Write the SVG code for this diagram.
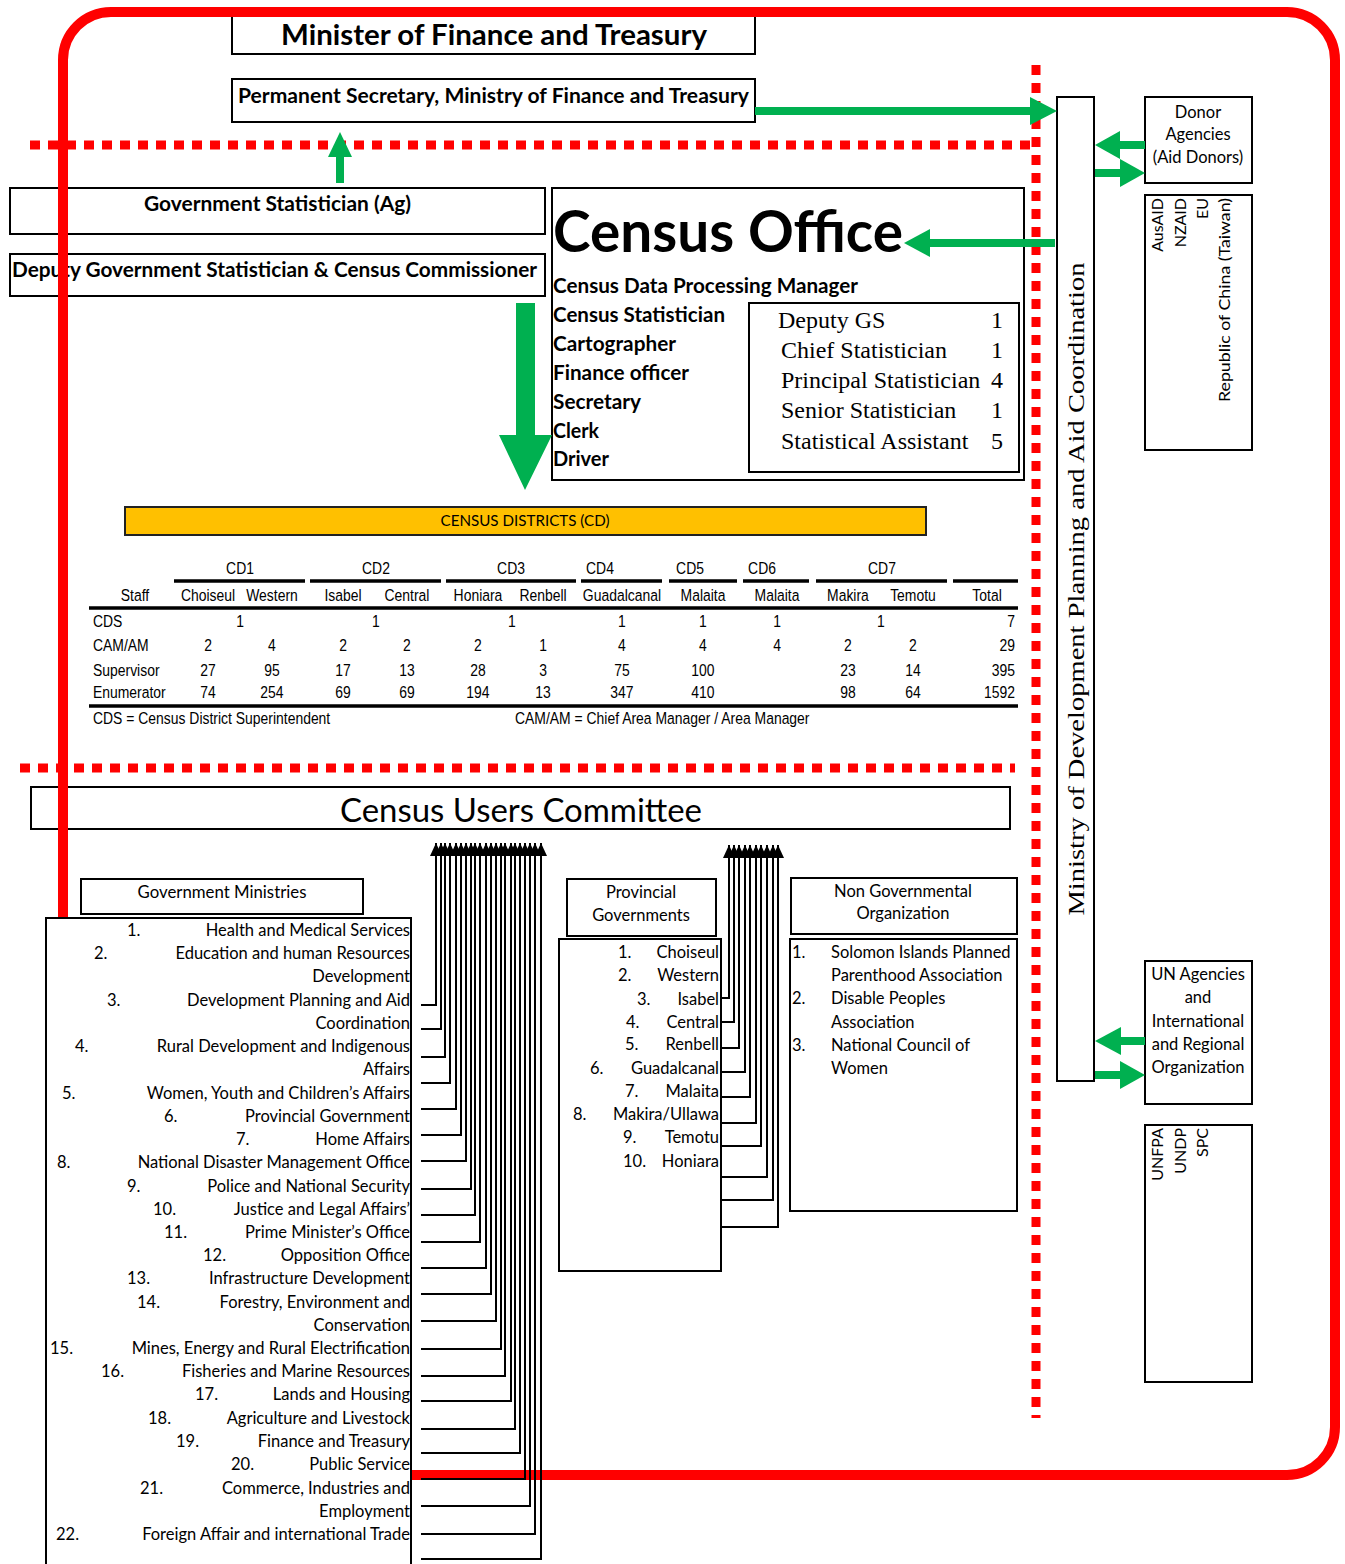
<svg xmlns="http://www.w3.org/2000/svg" width="1345" height="1564" viewBox="0 0 1345 1564">
<style>
.box{fill:none;stroke:#000;stroke-width:2}
.wbox{fill:#fff;stroke:#000;stroke-width:2}
.dot{fill:none;stroke:#FF0000;stroke-width:9;stroke-dasharray:10 8}
.g{fill:#00B050}
.cal{font-family:Lato,"Liberation Sans",sans-serif;fill:#000}
.calb{font-family:Lato,"Liberation Sans",sans-serif;font-weight:bold;fill:#000}
.tm{font-family:"Liberation Serif",serif;font-size:24px;fill:#000}
.nar{font-family:"Liberation Sans",Arial,sans-serif;font-size:17px;fill:#000}
.conn{fill:none;stroke:#000;stroke-width:2}
.thick{stroke:#000;stroke-width:3.5}
.li{font-size:16.5px}
</style>
<defs>
<marker id="ah" markerUnits="userSpaceOnUse" markerWidth="13" markerHeight="12" viewBox="0 0 13 12" refX="13" refY="6" orient="auto"><path d="M0,0 L13,6 L0,12 z" fill="#000"/></marker>
</defs>

<g id="separators">
<line class="dot" x1="30" y1="145" x2="1036" y2="145"/>
<line class="dot" x1="1036" y1="65" x2="1036" y2="1418"/>
<line class="dot" x1="20" y1="768" x2="1015" y2="768"/>
</g>

<g id="minister">
<rect class="box" x="232" y="15" width="523" height="39"/>
<text class="calb" x="494" y="45" font-size="28" text-anchor="middle" textLength="426" lengthAdjust="spacingAndGlyphs">Minister of Finance and Treasury</text>
</g>
<g id="permsec">
<rect class="box" x="232" y="79" width="523" height="43"/>
<text class="calb" x="238" y="103" font-size="20" textLength="511" lengthAdjust="spacingAndGlyphs">Permanent Secretary, Ministry of Finance and Treasury</text>
</g>
<g id="govstat">
<rect class="box" x="10" y="188" width="535" height="46"/>
<text class="calb" x="144" y="211" font-size="20" textLength="267" lengthAdjust="spacingAndGlyphs">Government Statistician (Ag)</text>
</g>
<g id="deputy">
<rect class="box" x="10" y="254" width="535" height="42"/>
<text class="calb" x="12" y="277" font-size="20" textLength="525" lengthAdjust="spacingAndGlyphs">Deputy Government Statistician &amp; Census Commissioner</text>
</g>

<g id="census-office">
<rect class="box" x="552" y="188" width="472" height="292"/>
<text class="calb" x="553" y="252" font-size="58" textLength="350" lengthAdjust="spacingAndGlyphs">Census Office</text>
<text class="calb" x="553" y="293" font-size="20" textLength="305" lengthAdjust="spacingAndGlyphs">Census Data Processing Manager</text>
<text class="calb" x="553" y="322" font-size="20" textLength="172" lengthAdjust="spacingAndGlyphs">Census Statistician</text>
<text class="calb" x="553" y="351" font-size="20" textLength="123" lengthAdjust="spacingAndGlyphs">Cartographer</text>
<text class="calb" x="553" y="380" font-size="20" textLength="136" lengthAdjust="spacingAndGlyphs">Finance officer</text>
<text class="calb" x="553" y="409" font-size="20" textLength="88" lengthAdjust="spacingAndGlyphs">Secretary</text>
<text class="calb" x="553" y="438" font-size="20" textLength="46" lengthAdjust="spacingAndGlyphs">Clerk</text>
<text class="calb" x="553" y="466" font-size="20" textLength="56" lengthAdjust="spacingAndGlyphs">Driver</text>
</g>
<g id="staff-box">
<rect class="box" x="749" y="303" width="270" height="169"/>
<text class="tm" x="778" y="328">Deputy GS</text><text class="tm" x="997" y="328" text-anchor="middle">1</text>
<text class="tm" x="781" y="358">Chief Statistician</text><text class="tm" x="997" y="358" text-anchor="middle">1</text>
<text class="tm" x="781" y="388">Principal Statistician</text><text class="tm" x="997" y="388" text-anchor="middle">4</text>
<text class="tm" x="781" y="418">Senior Statistician</text><text class="tm" x="997" y="418" text-anchor="middle">1</text>
<text class="tm" x="781" y="449">Statistical Assistant</text><text class="tm" x="997" y="449" text-anchor="middle">5</text>
</g>

<g id="ministry-dev">
<rect class="box" x="1057" y="97" width="37" height="984"/>
<text class="tm" font-size="28" transform="translate(1084,589) rotate(-90)" text-anchor="middle" textLength="653" lengthAdjust="spacingAndGlyphs">Ministry of Development Planning and Aid Coordination</text>
</g>

<g id="donor">
<rect class="box" x="1145" y="97" width="107" height="86"/>
<text class="cal" font-size="16.5" x="1198" y="118" text-anchor="middle">Donor</text>
<text class="cal" font-size="16.5" x="1198" y="140" text-anchor="middle">Agencies</text>
<text class="cal" font-size="16.5" x="1198" y="163" text-anchor="middle">(Aid Donors)</text>
</g>
<g id="donor-list">
<rect class="box" x="1145" y="195" width="107" height="255"/>
<text class="cal" font-size="16" transform="translate(1163,198) rotate(-90)" text-anchor="end">AusAID</text>
<text class="cal" font-size="16" transform="translate(1186,198) rotate(-90)" text-anchor="end">NZAID</text>
<text class="cal" font-size="16" transform="translate(1208,198) rotate(-90)" text-anchor="end">EU</text>
<text class="cal" font-size="16" transform="translate(1230,198) rotate(-90)" text-anchor="end" textLength="204" lengthAdjust="spacingAndGlyphs">Republic of China (Taiwan)</text>
</g>
<g id="un">
<rect class="box" x="1145" y="961" width="107" height="143"/>
<text class="cal" font-size="16.5" x="1198" y="980" text-anchor="middle">UN Agencies</text>
<text class="cal" font-size="16.5" x="1198" y="1003" text-anchor="middle">and</text>
<text class="cal" font-size="16.5" x="1198" y="1027" text-anchor="middle">International</text>
<text class="cal" font-size="16.5" x="1198" y="1050" text-anchor="middle">and Regional</text>
<text class="cal" font-size="16.5" x="1198" y="1073" text-anchor="middle">Organization</text>
</g>
<g id="un-list">
<rect class="box" x="1145" y="1125" width="107" height="257"/>
<text class="cal" font-size="16" transform="translate(1163,1128) rotate(-90)" text-anchor="end">UNFPA</text>
<text class="cal" font-size="16" transform="translate(1186,1128) rotate(-90)" text-anchor="end">UNDP</text>
<text class="cal" font-size="16" transform="translate(1208,1128) rotate(-90)" text-anchor="end">SPC</text>
</g>

<g id="census-districts">
<rect x="125" y="507" width="801" height="28" fill="#FFC000" stroke="#222" stroke-width="2"/>
<text class="cal" font-size="15" x="525" y="526" text-anchor="middle" textLength="169" lengthAdjust="spacingAndGlyphs">CENSUS DISTRICTS (CD)</text>
</g>

<g id="cd-table">
<g class="thick">
<line x1="174" y1="581" x2="305" y2="581"/>
<line x1="310" y1="581" x2="441" y2="581"/>
<line x1="446" y1="581" x2="576" y2="581"/>
<line x1="581" y1="581" x2="662" y2="581"/>
<line x1="669" y1="581" x2="737" y2="581"/>
<line x1="743" y1="581" x2="809" y2="581"/>
<line x1="816" y1="581" x2="947" y2="581"/>
<line x1="953" y1="581" x2="1018" y2="581"/>
<line x1="89" y1="608" x2="1018" y2="608"/>
<line x1="89" y1="706" x2="1018" y2="706"/>
</g>
<g transform="scale(0.82,1)">
<g class="nar" text-anchor="middle">
<text x="292.7" y="574">CD1</text><text x="458.5" y="574">CD2</text><text x="623.2" y="574">CD3</text><text x="731.7" y="574">CD4</text><text x="841.5" y="574">CD5</text><text x="929.3" y="574">CD6</text><text x="1075.6" y="574">CD7</text>
<text x="164.6" y="601">Staff</text><text x="253.7" y="601">Choiseul</text><text x="331.7" y="601">Western</text><text x="418.3" y="601">Isabel</text><text x="496.3" y="601">Central</text><text x="582.9" y="601">Honiara</text><text x="662.2" y="601">Renbell</text><text x="758.5" y="601">Guadalcanal</text><text x="857.3" y="601">Malaita</text><text x="947.6" y="601">Malaita</text><text x="1034.1" y="601">Makira</text><text x="1113.4" y="601">Temotu</text><text x="1203.7" y="601">Total</text>
<text x="292.7" y="627">1</text><text x="458.5" y="627">1</text><text x="624.4" y="627">1</text><text x="758.5" y="627">1</text><text x="857.3" y="627">1</text><text x="947.6" y="627">1</text><text x="1074.4" y="627">1</text>
<text x="253.7" y="651">2</text><text x="331.7" y="651">4</text><text x="418.3" y="651">2</text><text x="496.3" y="651">2</text><text x="582.9" y="651">2</text><text x="662.2" y="651">1</text><text x="758.5" y="651">4</text><text x="857.3" y="651">4</text><text x="947.6" y="651">4</text><text x="1034.1" y="651">2</text><text x="1113.4" y="651">2</text>
<text x="253.7" y="676">27</text><text x="331.7" y="676">95</text><text x="418.3" y="676">17</text><text x="496.3" y="676">13</text><text x="582.9" y="676">28</text><text x="662.2" y="676">3</text><text x="758.5" y="676">75</text><text x="857.3" y="676">100</text><text x="1034.1" y="676">23</text><text x="1113.4" y="676">14</text>
<text x="253.7" y="698">74</text><text x="331.7" y="698">254</text><text x="418.3" y="698">69</text><text x="496.3" y="698">69</text><text x="582.9" y="698">194</text><text x="662.2" y="698">13</text><text x="758.5" y="698">347</text><text x="857.3" y="698">410</text><text x="1034.1" y="698">98</text><text x="1113.4" y="698">64</text>
</g>
<g class="nar" text-anchor="end">
<text x="1237.8" y="627">7</text><text x="1237.8" y="651">29</text><text x="1237.8" y="676">395</text><text x="1237.8" y="698">1592</text>
</g>
<g class="nar">
<text x="113.4" y="627">CDS</text><text x="113.4" y="651">CAM/AM</text><text x="113.4" y="676">Supervisor</text><text x="113.4" y="698">Enumerator</text>
<text x="113.4" y="724">CDS = Census District Superintendent</text>
<text x="628" y="724">CAM/AM = Chief Area Manager / Area Manager</text>
</g>
</g>
</g>

<g id="users-committee">
<rect class="box" x="31" y="787" width="979" height="42"/>
<text class="cal" font-size="32" x="521" y="822" text-anchor="middle" textLength="362" lengthAdjust="spacingAndGlyphs">Census Users Committee</text>
</g>

<g id="gov-ministries-header">
<rect class="box" x="81" y="879" width="282" height="35"/>
<text class="cal" font-size="16.8" x="222" y="898" text-anchor="middle">Government Ministries</text>
</g>

<rect id="frame" x="63" y="12" width="1272" height="1463" rx="48" fill="none" stroke="#FF0000" stroke-width="10"/>

<g id="gov-ministries">
<rect class="wbox" x="46" y="918" width="365" height="700"/>
<g class="cal li">
<text x="127" y="936">1.</text><text x="94" y="959">2.</text><text x="107" y="1006">3.</text><text x="75" y="1052">4.</text><text x="62" y="1099">5.</text><text x="164" y="1122">6.</text><text x="236" y="1145">7.</text><text x="57" y="1168">8.</text><text x="127" y="1192">9.</text><text x="153" y="1215">10.</text><text x="164" y="1238">11.</text><text x="203" y="1261">12.</text><text x="127" y="1284">13.</text><text x="137" y="1308">14.</text><text x="50" y="1354">15.</text><text x="101" y="1377">16.</text><text x="195" y="1400">17.</text><text x="148" y="1424">18.</text><text x="176" y="1447">19.</text><text x="231" y="1470">20.</text><text x="140" y="1494">21.</text><text x="56" y="1540">22.</text>
</g>
<g class="cal li" text-anchor="end">
<text x="410" y="936">Health and Medical Services</text>
<text x="410" y="959">Education and human Resources</text>
<text x="410" y="982">Development</text>
<text x="410" y="1006">Development Planning and Aid</text>
<text x="410" y="1029">Coordination</text>
<text x="410" y="1052">Rural Development and Indigenous</text>
<text x="410" y="1075">Affairs</text>
<text x="410" y="1099">Women, Youth and Children’s Affairs</text>
<text x="410" y="1122">Provincial Government</text>
<text x="410" y="1145">Home Affairs</text>
<text x="410" y="1168">National Disaster Management Office</text>
<text x="410" y="1192">Police and National Security</text>
<text x="410" y="1215">Justice and Legal Affairs’</text>
<text x="410" y="1238">Prime Minister’s Office</text>
<text x="410" y="1261">Opposition Office</text>
<text x="410" y="1284">Infrastructure Development</text>
<text x="410" y="1308">Forestry, Environment and</text>
<text x="410" y="1331">Conservation</text>
<text x="410" y="1354">Mines, Energy and Rural Electrification</text>
<text x="410" y="1377">Fisheries and Marine Resources</text>
<text x="410" y="1400">Lands and Housing</text>
<text x="410" y="1424">Agriculture and Livestock</text>
<text x="410" y="1447">Finance and Treasury</text>
<text x="410" y="1470">Public Service</text>
<text x="410" y="1494">Commerce, Industries and</text>
<text x="410" y="1517">Employment</text>
<text x="410" y="1540">Foreign Affair and international Trade</text>
</g>
</g>

<g id="provincial-header">
<rect class="box" x="567" y="879" width="149" height="57"/>
<text class="cal" font-size="16.5" x="641" y="898" text-anchor="middle">Provincial</text>
<text class="cal" font-size="16.5" x="641" y="921" text-anchor="middle">Governments</text>
</g>
<g id="provincial">
<rect class="box" x="559" y="939" width="162" height="332"/>
<g class="cal li">
<text x="618" y="958">1.</text><text x="618" y="981">2.</text><text x="637" y="1005">3.</text><text x="626" y="1028">4.</text><text x="625" y="1050">5.</text><text x="590" y="1074">6.</text><text x="625" y="1097">7.</text><text x="573" y="1120">8.</text><text x="623" y="1143">9.</text><text x="623" y="1167">10.</text>
</g>
<g class="cal li" text-anchor="end">
<text x="719" y="958">Choiseul</text><text x="719" y="981">Western</text><text x="719" y="1005">Isabel</text><text x="719" y="1028">Central</text><text x="719" y="1050">Renbell</text><text x="719" y="1074">Guadalcanal</text><text x="719" y="1097">Malaita</text><text x="719" y="1120">Makira/Ullawa</text><text x="719" y="1143">Temotu</text><text x="719" y="1167">Honiara</text>
</g>
</g>

<g id="ngo-header">
<rect class="box" x="791" y="878" width="226" height="56"/>
<text class="cal" font-size="16.5" x="903" y="897" text-anchor="middle">Non Governmental</text>
<text class="cal" font-size="16.5" x="903" y="919" text-anchor="middle">Organization</text>
</g>
<g id="ngo">
<rect class="box" x="790" y="939" width="227" height="272"/>
<g class="cal li">
<text x="792" y="958">1.</text><text x="831" y="958">Solomon Islands Planned</text>
<text x="831" y="981">Parenthood Association</text>
<text x="792" y="1004">2.</text><text x="831" y="1004">Disable Peoples</text>
<text x="831" y="1028">Association</text>
<text x="792" y="1051">3.</text><text x="831" y="1051">National Council of</text>
<text x="831" y="1074">Women</text>
</g>
</g>

<g id="connectors">
<g class="conn" marker-end="url(#ah)">
<path d="M421,1005H436V843"/><path d="M421,1029H441V843"/><path d="M421,1057H445V843"/><path d="M421,1083H450V843"/><path d="M421,1109H456V843"/><path d="M421,1135H461V843"/><path d="M421,1161H466V843"/><path d="M421,1189H471V843"/><path d="M421,1215H475V843"/><path d="M421,1242H480V843"/><path d="M421,1268H486V843"/><path d="M421,1294H491V843"/><path d="M421,1321H496V843"/><path d="M421,1349H501V843"/><path d="M421,1376H505V843"/><path d="M421,1401H511V843"/><path d="M421,1429H515V843"/><path d="M421,1453H520V843"/><path d="M421,1479H525V843"/><path d="M421,1506H530V843"/><path d="M421,1534H535V843"/><path d="M421,1559H541V843"/>
<path d="M721,998H729V845"/><path d="M721,1022H734V845"/><path d="M721,1048H739V845"/><path d="M721,1072H745V845"/><path d="M721,1097H750V845"/><path d="M721,1123H756V845"/><path d="M721,1146H761V845"/><path d="M721,1177H767V845"/><path d="M721,1200H773V845"/><path d="M721,1227H778V845"/>
</g>
<g class="g">
<rect x="755" y="107" width="278" height="8"/><polygon points="1030,97 1057,111 1030,125"/>
<rect x="336" y="156" width="8" height="27"/><polygon points="328,157 340,132 352,157"/>
<rect x="928" y="239" width="127" height="8"/><polygon points="930,229 904,243 930,257"/>
<polygon points="516,303 535,303 535,435 552,435 525,490 499,435 516,435"/>
<rect x="1118" y="141" width="27" height="8"/><polygon points="1120,131 1095,145 1120,159"/>
<rect x="1095" y="169" width="27" height="8"/><polygon points="1120,159 1145,173 1120,187"/>
<rect x="1118" y="1037" width="27" height="8"/><polygon points="1121,1027 1095,1041 1121,1055"/>
<rect x="1095" y="1071" width="27" height="8"/><polygon points="1120,1061 1145,1075 1120,1089"/>
</g>
</g>
</svg>
